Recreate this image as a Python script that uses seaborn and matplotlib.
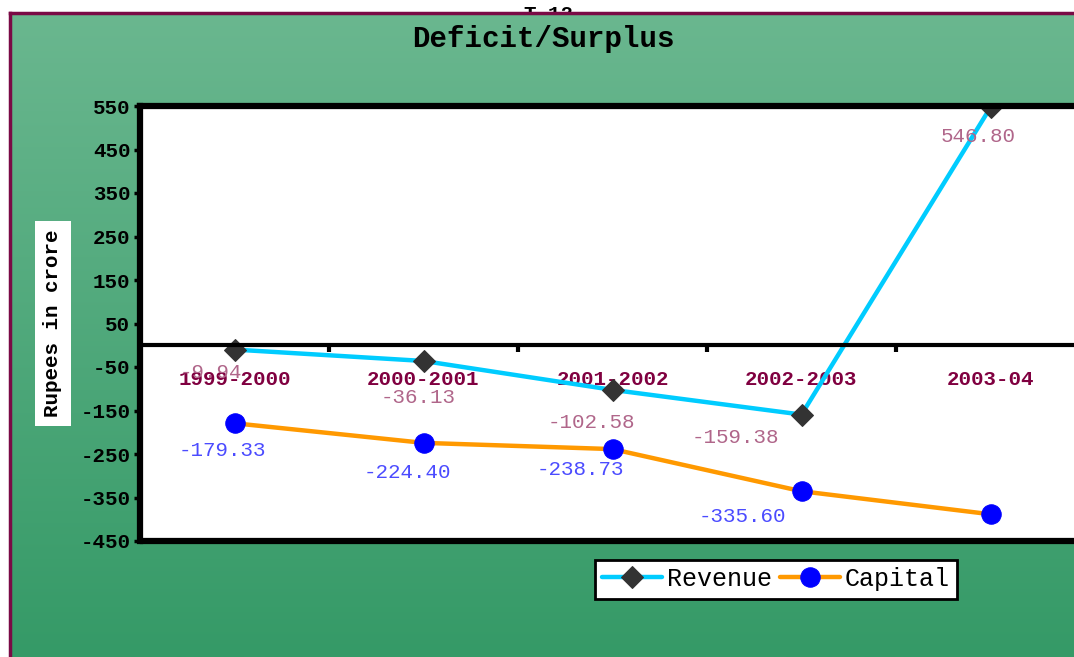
import numpy as np
import pandas as pd
import seaborn as sns
import matplotlib.pyplot as plt
from matplotlib.ticker import FixedLocator

# data
years = ['1999-2000', '2000-2001', '2001-2002', '2002-2003', '2003-04']
revenue = [-9.94, -36.13, -102.58, -159.38, 546.80]
capital = [-179.33, -224.40, -238.73, -335.60, -388.5]
capital_labels = ['-179.33', '-224.40', '-238.73', '-335.60', '']
y_ticks = [550, 450, 350, 250, 150, 50, -50, -150, -250, -350, -450]

# label offsets (pixels) relative to each point
rev_off = [(-24, -23), (-5, -37), (-21, -33), (-66, -23), (-12, -29)]
cap_off = [(-12, -27), (-16, -30), (-32, -20), (-59, -25), (0, 0)]

df = pd.DataFrame({'year': years, 'Revenue': revenue, 'Capital': capital})

sns.set_style('white')
plt.rcParams['font.family'] = ['Liberation Mono', 'DejaVu Sans']
plt.rcParams['text.color'] = 'black'
plt.rcParams['xtick.color'] = 'black'
plt.rcParams['ytick.color'] = 'black'
plt.rcParams['axes.labelcolor'] = 'black'

fig = plt.figure(figsize=(10.74, 6.57), dpi=100)
W, H = 1074, 657

# green gradient panel behind everything
bg = fig.add_axes([10 / W, 0, 1, (H - 13) / H], zorder=-1)
top_c = np.array([106, 183, 143]) / 255
bot_c = np.array([53, 154, 103]) / 255
t = np.linspace(0, 1, 256)[:, None]
grad = (top_c * (1 - t) + bot_c * t)[:, None, :]
bg.imshow(grad, aspect='auto', extent=[0, 1, 0, 1])
bg.set_xticks([])
bg.set_yticks([])
for s in ['right', 'bottom']:
    bg.spines[s].set_visible(False)
for s in ['left', 'top']:
    bg.spines[s].set_color('#7a0a45')
    bg.spines[s].set_linewidth(2.5)

fig.text(548 / W, 1 - 14 / H, 'T-12', ha='center', va='center', fontsize=15,
         fontweight='bold', zorder=-2)

ax = fig.add_axes([140 / W, (H - 541) / H, 945 / W, 435 / H])
ax.set_facecolor('white')

sns.lineplot(data=df, x='year', y='Revenue', ax=ax, sort=False, color='#00ccff',
             linewidth=3.2, marker='D', markersize=11, markerfacecolor='#333333',
             markeredgecolor='#333333', label='Revenue')
sns.lineplot(data=df, x='year', y='Capital', ax=ax, sort=False, color='#ff9900',
             linewidth=3.2, marker='o', markersize=14, markerfacecolor='#0000ff',
             markeredgecolor='#0000ff', label='Capital')

for i, v in enumerate(revenue):
    ax.annotate(f'{v:.2f}', (i, v), xytext=rev_off[i], textcoords='offset pixels',
                ha='center', va='center', fontsize=15, color='#b0668a')
for i, v in enumerate(capital):
    ax.annotate(capital_labels[i], (i, v), xytext=cap_off[i], textcoords='offset pixels',
                ha='center', va='center', fontsize=15, color='#4b4bff')

ax.set_xlim(-0.5, 4.5)
ax.set_ylim(-450, 550)
ax.set_yticks(y_ticks)
ax.set_yticklabels([str(v) for v in y_ticks], fontweight='bold', fontsize=15)
ax.tick_params(axis='y', direction='out', length=4, width=2.5, pad=3, left=True,
               colors='black')

# category axis sits on the zero line
ax.spines['bottom'].set_position(('data', 0))
ax.set_xticks(range(len(years)))
ax.set_xticklabels(years, fontweight='bold', fontsize=15, color='#800040')
ax.xaxis.set_minor_locator(FixedLocator([0.5, 1.5, 2.5, 3.5]))
ax.tick_params(axis='x', which='major', length=0, pad=18)
ax.tick_params(axis='x', which='minor', direction='out', length=5, width=3,
               bottom=True, color='black')
ax.set_xlabel('')

for s in ['left', 'top', 'right']:
    ax.spines[s].set_linewidth(4.5)
    ax.spines[s].set_color('black')
ax.spines['bottom'].set_linewidth(3)
ax.spines['bottom'].set_color('black')
ax.axhline(-450, color='black', linewidth=4.5, clip_on=False, zorder=5)

ax.set_ylabel('Rupees in crore', fontsize=15, fontweight='bold', labelpad=13,
              bbox=dict(facecolor='white', edgecolor='none', pad=6))

fig.text(543 / W, 1 - 39 / H, 'Deficit/Surplus', ha='center', va='center',
         fontsize=21, fontweight='bold', color='black')

leg = ax.legend(loc='center', bbox_to_anchor=(776 / W, 1 - 579 / H),
                bbox_transform=fig.transFigure, ncol=2, fontsize=18,
                handlelength=2.4, handletextpad=0.2, columnspacing=0.3,
                fancybox=False, framealpha=1, borderpad=0.3)
leg.get_frame().set_edgecolor('black')
leg.get_frame().set_linewidth(2)

fig.savefig('out.png', dpi=100)
